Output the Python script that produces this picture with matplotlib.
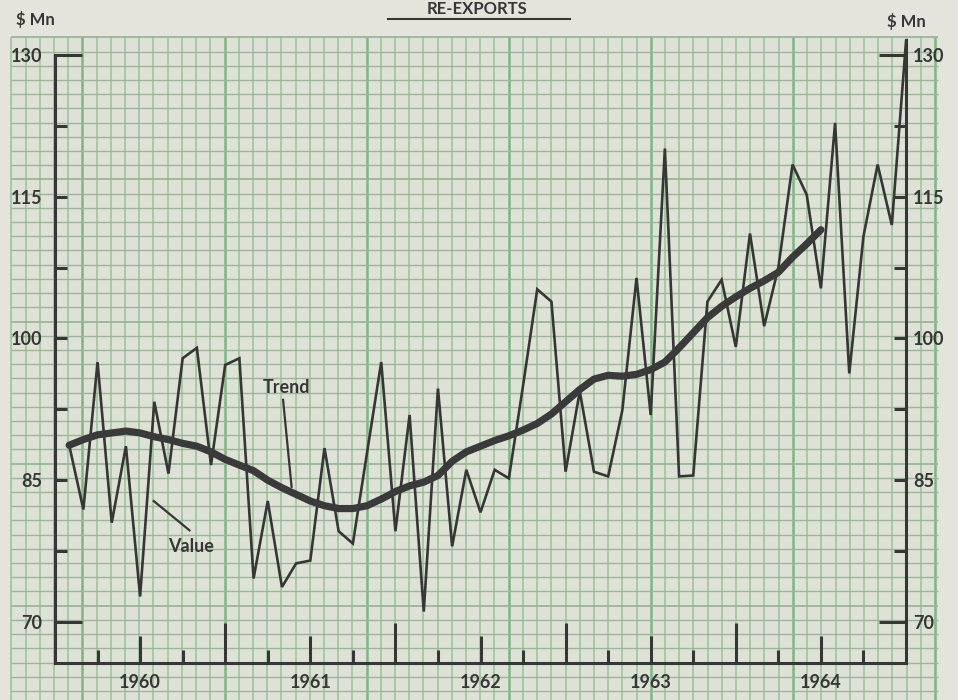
import matplotlib

matplotlib.use("Agg")

import matplotlib.pyplot as plt
import numpy as np
from matplotlib.lines import Line2D
from matplotlib.patches import Rectangle

W, H = 958, 700
INK = "#363636"
plt.rcParams["font.family"] = ["Lato", "DejaVu Sans"]
plt.rcParams["font.weight"] = "bold"

# monthly re-exports ($ Mn), Jul 1959 .. Jun 1964, plotted at month end
value = [88.7, 81.9, 97.5, 80.5, 88.6, 72.7, 93.3, 85.7, 97.9, 99.0, 86.6, 97.2,
         97.9, 74.6, 82.8, 73.7, 76.2, 76.5, 88.4, 79.6, 78.3, 87.9, 97.5, 79.6,
         91.9, 71.1, 94.7, 78.0, 86.1, 81.6, 86.1, 85.2, 95.0, 105.2, 103.9, 85.9,
         94.4, 85.9, 85.4, 92.4, 106.4, 91.9, 120.1, 85.4, 85.5, 103.9, 106.2, 99.1,
         111.1, 101.3, 107.5, 118.4, 115.2, 105.3, 122.8, 96.3, 110.8, 118.4, 112.0, 131.4]
# trend, Jul 1959 .. Dec 1963
trend = [88.7, 89.3, 89.8, 90.0, 90.2, 90.0, 89.6, 89.3, 88.9, 88.6, 88.0, 87.2,
         86.6, 86.0, 85.0, 84.2, 83.5, 82.8, 82.3, 82.0, 82.0, 82.3, 83.0, 83.8,
         84.4, 84.8, 85.5, 87.0, 88.0, 88.6, 89.2, 89.7, 90.3, 91.0, 92.0, 93.3,
         94.6, 95.7, 96.1, 96.0, 96.2, 96.7, 97.5, 99.0, 100.6, 102.2, 103.4, 104.4,
         105.3, 106.1, 107.0, 108.6, 110.0, 111.5]

y_ticks = [70, 77.5, 85, 92.5, 100, 107.5, 115, 122.5, 130]
y_labels = ["70", "", "85", "", "100", "", "115", "", "130"]
x_ticks = [1959.75, 1960.0, 1960.25, 1960.5, 1960.75, 1961.0, 1961.25, 1961.5, 1961.75,
           1962.0, 1962.25, 1962.5, 1962.75, 1963.0, 1963.25, 1963.5, 1963.75, 1964.0, 1964.25]
x_labels = ["", "1960", "", "", "", "1961", "", "", "", "1962", "", "", "", "1963", "", "", "", "1964", ""]

months = np.arange(len(value))
t = 1959.5 + (months + 1) / 12.0

fig = plt.figure(figsize=(W / 100, H / 100), dpi=100)
fig.patch.set_facecolor("#e4e4dc")

# graph paper background, in pixel units
bg = fig.add_axes([0, 0, 1, 1], zorder=0)
bg.set_xlim(0, W)
bg.set_ylim(H, 0)
bg.axis("off")
bg.add_patch(Rectangle((11, 37), 927, H - 37, facecolor="#dee2d6", edgecolor="none"))
step = 14.21
for i, x in enumerate(np.arange(11.35, 939, step)):
    heavy = (i - 5) % 10 == 0
    bg.vlines(x, 37, H, colors="#7fb583" if heavy else "#9cc49c", linewidths=1.8 if heavy else 1.2)
for j, y in enumerate(np.arange(37.3, H, step)):
    bg.hlines(y, 11, 938, colors="#9bb49a", linewidths=1.3 if j % 10 == 0 else 1.0)

ax = fig.add_axes([55 / W, (H - 663) / H, 851 / W, (663 - 36) / H], zorder=1)
ax.patch.set_alpha(0)
ax.set_xlim(1959.5, 1964.5)
ax.set_ylim(65.66, 132.0)

ax.plot(t, value, color=INK, lw=1.9, solid_joinstyle="miter", zorder=3)
ax.plot(t[: len(trend)], trend, color="#3a3a3a", lw=5.2, solid_capstyle="round", zorder=4)

for side in ("top", "right"):
    ax.spines[side].set_visible(False)
for side in ("left", "bottom"):
    ax.spines[side].set_linewidth(2.2)
    ax.spines[side].set_color(INK)
ax.spines["left"].set_bounds(65.66, 130)

ax.set_yticks(y_ticks, y_labels)
ax.tick_params(axis="y", direction="in", length=8.6, width=2.2, color=INK,
               labelsize=13, labelcolor=INK, pad=9)
for tk, v in zip(ax.yaxis.get_major_ticks(), y_ticks):
    if v in (70, 130):
        tk.tick1line.set_markersize(19.4)

sec = ax.secondary_yaxis("right")
sec.spines["right"].set_linewidth(2.2)
sec.spines["right"].set_color(INK)
sec.spines["right"].set_bounds(65.66, 131.6)
sec.set_yticks(y_ticks, y_labels)
sec.tick_params(axis="y", direction="in", length=8.6, width=2.2, color=INK,
                labelsize=13, labelcolor=INK, pad=5)
for tk, v in zip(sec.yaxis.get_major_ticks(), y_ticks):
    if v in (70, 130):
        tk.tick2line.set_markersize(19.4)

ax.set_xticks(x_ticks, x_labels)
ax.tick_params(axis="x", direction="in", length=9.4, width=2.2, color=INK,
               labelsize=13, labelcolor=INK, pad=8)
for tk, v in zip(ax.xaxis.get_major_ticks(), x_ticks):
    frac = v % 1
    if frac == 0:
        tk.tick1line.set_markersize(19.4)
    elif frac == 0.5:
        tk.tick1line.set_markersize(28.8)

# series labels with leader lines
ax.text(1960.86, 94.8, "Trend", ha="center", va="center", fontsize=13, color=INK)
ax.plot([1960.84, 1960.89], [93.5, 84.3], color=INK, lw=1.6, zorder=2)
ax.text(1960.30, 78.0, "Value", ha="center", va="center", fontsize=13, color=INK)
ax.plot([1960.08, 1960.29], [82.8, 79.7], color=INK, lw=1.6, zorder=2)

# unit labels and title
fig.text(35 / W, 1 - 20 / H, "$ Mn", ha="center", va="center", fontsize=12, color=INK)
fig.text(906 / W, 1 - 22 / H, "$ Mn", ha="center", va="center", fontsize=12, color=INK)
fig.text(477 / W, 1 - 1 / H, "RE-EXPORTS", ha="center", va="top", fontsize=12, color=INK)
fig.add_artist(Line2D([388 / W, 570 / W], [1 - 19 / H, 1 - 19 / H], color=INK, lw=1.5))

fig.savefig("out.png", dpi=100, facecolor=fig.get_facecolor())
plt.close(fig)
